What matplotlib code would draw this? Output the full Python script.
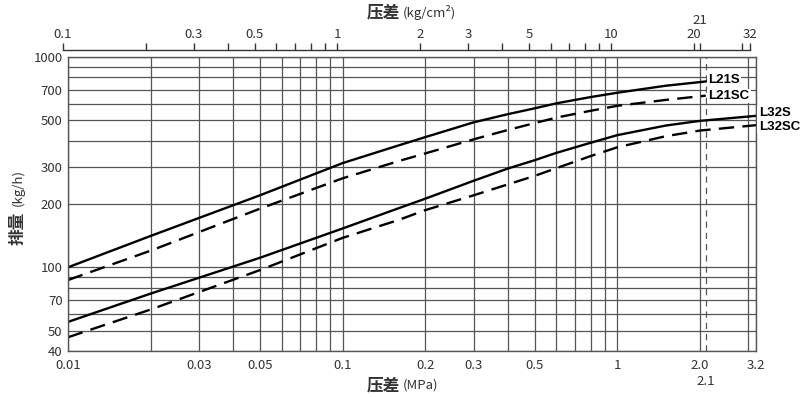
import matplotlib
matplotlib.use("Agg")
import matplotlib.pyplot as plt
from matplotlib.ticker import FixedLocator, NullLocator

plt.rcParams["font.family"] = ["Noto Sans CJK SC", "DejaVu Sans"]

# pressure difference (MPa) vs discharge (kg/h)
l21s_x = [0.01, 0.02, 0.05, 0.1, 0.16, 0.2, 0.3, 0.4, 0.5, 0.6, 0.8, 1.0, 1.5, 2.1]
l21s_y = [100, 141, 220, 313, 380, 416, 489, 535, 570, 602, 645, 676, 730, 765]
l21sc_x = [0.01, 0.02, 0.05, 0.1, 0.16, 0.2, 0.3, 0.4, 0.5, 0.6, 0.8, 1.0, 1.5, 2.1]
l21sc_y = [87, 120, 190, 265, 320, 348, 406, 450, 485, 515, 555, 586, 625, 655]
l32s_x = [0.01, 0.02, 0.05, 0.1, 0.16, 0.2, 0.3, 0.4, 0.5, 0.6, 0.8, 1.0, 1.5, 2.0, 3.2]
l32s_y = [55, 75, 111, 153, 191, 212, 258, 295, 323, 350, 391, 425, 472, 497, 525]
l32sc_x = [0.01, 0.02, 0.05, 0.1, 0.16, 0.2, 0.3, 0.4, 0.5, 0.6, 0.8, 1.0, 1.5, 2.0, 3.2]
l32sc_y = [46.5, 63, 97, 138, 168, 187, 220, 248, 272, 296, 338, 372, 420, 447, 474]

x_grid = [0.01, 0.02, 0.03, 0.04, 0.05, 0.06, 0.07, 0.08, 0.09, 0.1,
          0.2, 0.3, 0.4, 0.5, 0.6, 0.7, 0.8, 0.9, 1, 2, 3, 3.2]
x_labels = {0.01: "0.01", 0.03: "0.03", 0.05: "0.05", 0.1: "0.1", 0.2: "0.2",
            0.3: "0.3", 0.5: "0.5", 1: "1", 2: "2.0", 3.2: "3.2"}
y_grid = [40, 50, 60, 70, 80, 90, 100, 200, 300, 400, 500, 600, 700, 800, 900, 1000]
y_labels = {40: "40", 50: "50", 70: "70", 100: "100", 200: "200", 300: "300",
            500: "500", 700: "700", 1000: "1000"}

top_ticks = [0.1, 0.2, 0.3, 0.4, 0.5, 0.6, 0.7, 0.8, 0.9, 1, 2, 3, 4, 5, 6, 7, 8, 9,
             10, 20, 21, 30, 32]
top_labels = {0.1: "0.1", 0.3: "0.3", 0.5: "0.5", 1: "1", 2: "2", 3: "3", 5: "5",
              10: "10", 20: "20", 32: "32"}

# series labels and where they sit (kg/h)
names = ["L21S", "L21SC", "L32S", "L32SC"]
name_y = [777, 652, 541, 464]

W, H = 800, 397
fig = plt.figure(figsize=(W / 100, H / 100), dpi=100)
ax = fig.add_axes([68 / W, (H - 351) / H, 688 / W, 294 / H])

grid_c = "#555555"
txt_c = "#333333"

ax.set_xscale("log")
ax.set_yscale("log")
ax.set_xlim(0.01, 3.2)
ax.set_ylim(40, 1000)

ax.xaxis.set_major_locator(FixedLocator(x_grid))
ax.xaxis.set_minor_locator(NullLocator())
ax.set_xticklabels([x_labels.get(v, "") for v in x_grid])
ax.yaxis.set_major_locator(FixedLocator(y_grid))
ax.yaxis.set_minor_locator(NullLocator())
ax.set_yticklabels([y_labels.get(v, "") for v in y_grid])
ax.tick_params(length=0, labelsize=9.5, labelcolor=txt_c)
ax.tick_params(axis="x", pad=6)
ax.tick_params(axis="y", pad=4)
ax.grid(True, color=grid_c, lw=0.9)
for s in ax.spines.values():
    s.set_color(grid_c)
    s.set_linewidth(1.0)

ax.axvline(2.1, color=grid_c, lw=0.9, ls=(0, (5, 4)))
ax.annotate("2.1", (2.1, 0), xycoords=("data", "axes fraction"), xytext=(0, -17),
            textcoords="offset points", ha="center", va="top", fontsize=9.5,
            color=txt_c, annotation_clip=False)

lw = 1.7
dash = (0, (6.5, 3.5))
ax.plot(l21s_x, l21s_y, color="black", lw=lw)
ax.plot(l21sc_x, l21sc_y, color="black", lw=lw, ls=dash)
ax.plot(l32s_x, l32s_y, color="black", lw=lw)
ax.plot(l32sc_x, l32sc_y, color="black", lw=lw, ls=dash)

lab_kw = dict(textcoords="offset points", ha="left", va="center", fontsize=9.5,
              fontweight="bold", color="black", annotation_clip=False,
              family=["Liberation Sans", "DejaVu Sans"],
              bbox=dict(boxstyle="square,pad=0.1", fc="white", ec="none"))
ends = [l21s_x[-1], l21sc_x[-1], l32s_x[-1], l32sc_x[-1]]
for name, xe, ye in zip(names, ends, name_y):
    ax.annotate(name, (xe, ye), xytext=(2, 0), **lab_kw)

fig.text(400 / W, 1 - 385 / H, "压差", ha="right", va="center", fontsize=12,
         fontweight="bold", color=txt_c)
fig.text(403 / W, 1 - 385 / H, "(MPa)", ha="left", va="center", fontsize=9.5,
         color=txt_c)
fig.text(18 / W, 1 - 228 / H, "排量", ha="center", va="center", fontsize=12,
         fontweight="bold", color=txt_c, rotation=90)
fig.text(18 / W, 1 - 188 / H, "(kg/h)", ha="center", va="center", fontsize=9.5,
         color=txt_c, rotation=90)

# top scale in kg/cm2
axt = fig.add_axes([63 / W, (H - 50) / H, 687 / W, 0.001])
axt.set_xscale("log")
axt.set_xlim(0.1, 32)
axt.set_yticks([])
for k in ("left", "right", "bottom"):
    axt.spines[k].set_visible(False)
axt.spines["top"].set_color(txt_c)
axt.spines["top"].set_linewidth(1.0)
axt.patch.set_visible(False)
axt.xaxis.tick_top()
axt.xaxis.set_major_locator(FixedLocator(top_ticks))
axt.xaxis.set_minor_locator(NullLocator())
axt.set_xticklabels([top_labels.get(v, "") for v in top_ticks])
axt.tick_params(axis="x", direction="out", length=5, width=1.0, color=txt_c,
                labelsize=9.5, labelcolor=txt_c, pad=1)
axt.annotate("21", (21, 1), xycoords=("data", "axes fraction"), xytext=(0, 16),
             textcoords="offset points", ha="center", va="bottom", fontsize=9.5,
             color=txt_c, annotation_clip=False)

fig.text(400 / W, 1 - 12 / H, "压差", ha="right", va="center", fontsize=12,
         fontweight="bold", color=txt_c)
fig.text(403 / W, 1 - 12 / H, "(kg/cm²)", ha="left", va="center", fontsize=9.5,
         color=txt_c)

fig.savefig("out.png", dpi=100)
